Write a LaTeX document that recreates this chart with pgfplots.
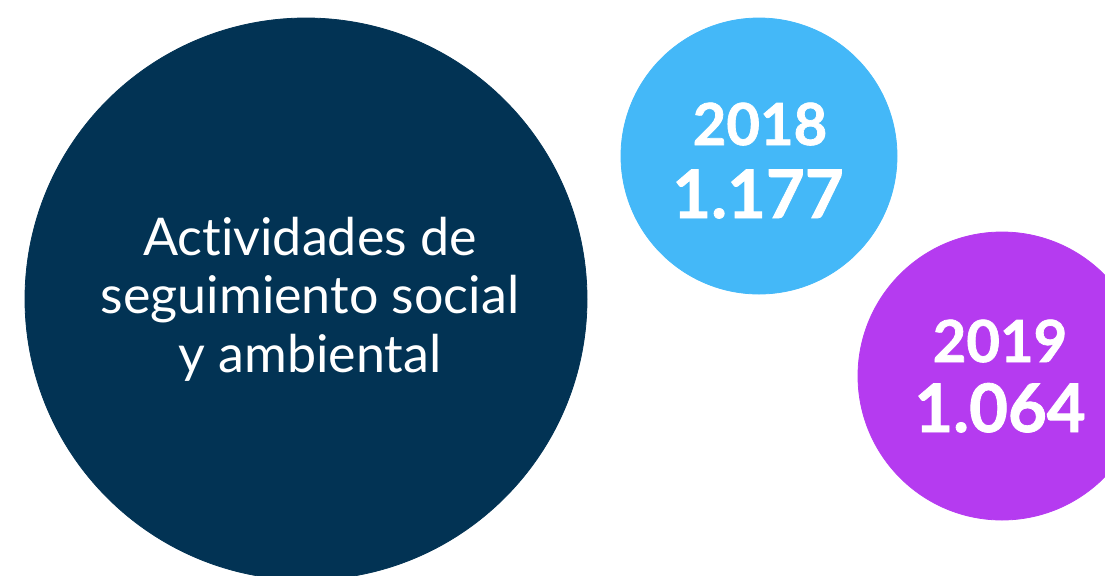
\documentclass[border=0pt]{standalone}
\usepackage{pgfplots}
\pgfplotsset{compat=1.18}
\usepackage{fontspec}
\setmainfont{Lato}[Ligatures=NoCommon]
\newfontfamily\numfont{Lato}[BoldFeatures={FakeBold=1.2}]
\definecolor{navy}{HTML}{023354}
\definecolor{sky}{HTML}{44B8F8}
\definecolor{violet}{HTML}{B53BF0}
\begin{document}
\begin{tikzpicture}
  \begin{axis}[
    scale only axis,
    width=552.5pt, height=287.5pt,
    xmin=0, xmax=1105, ymin=0, ymax=575,
    y dir=reverse,
    hide axis,
    clip=true
  ]
  % circles, radius in pt (1 px = 0.5 pt)
  \addplot[only marks, mark=*, mark size=140.5pt, color=navy, mark options={draw=navy, fill=navy}]
    coordinates {(306,299)};
  \addplot[only marks, mark=*, mark size=69pt, color=sky, mark options={draw=sky, fill=sky}]
    coordinates {(759,156)};
  \addplot[only marks, mark=*, mark size=72pt, color=violet, mark options={draw=violet, fill=violet}]
    coordinates {(1002,376)};
  \coordinate (l1) at (axis cs:310,255);
  \coordinate (l2) at (axis cs:310,313);
  \coordinate (l3) at (axis cs:310,372);
  \coordinate (a1) at (axis cs:760,145);
  \coordinate (a2) at (axis cs:758,218);
  \coordinate (b1) at (axis cs:1000,362);
  \coordinate (b2) at (axis cs:1000,432);
  \end{axis}
  \tikzset{lbl/.style={anchor=base, text=white, inner sep=0pt, font=\fontsize{26}{29}\selectfont},
           yr/.style={anchor=base, text=white, inner sep=0pt, font=\fontsize{29}{30}\numfont\bfseries},
           val/.style={anchor=base, text=white, inner sep=0pt, font=\fontsize{33.5}{36}\numfont\bfseries}}
  \node[lbl] at (l1) {Actividades de};
  \node[lbl] at (l2) {seguimiento social};
  \node[lbl] at (l3) {y ambiental};
  \node[yr] at (a1) {2018};
  \node[val] at (a2) {1.177};
  \node[yr] at (b1) {2019};
  \node[val] at (b2) {1.064};
  \pgfresetboundingbox
  \path[use as bounding box] (current axis.south west) rectangle (current axis.north east);
\end{tikzpicture}
\end{document}
